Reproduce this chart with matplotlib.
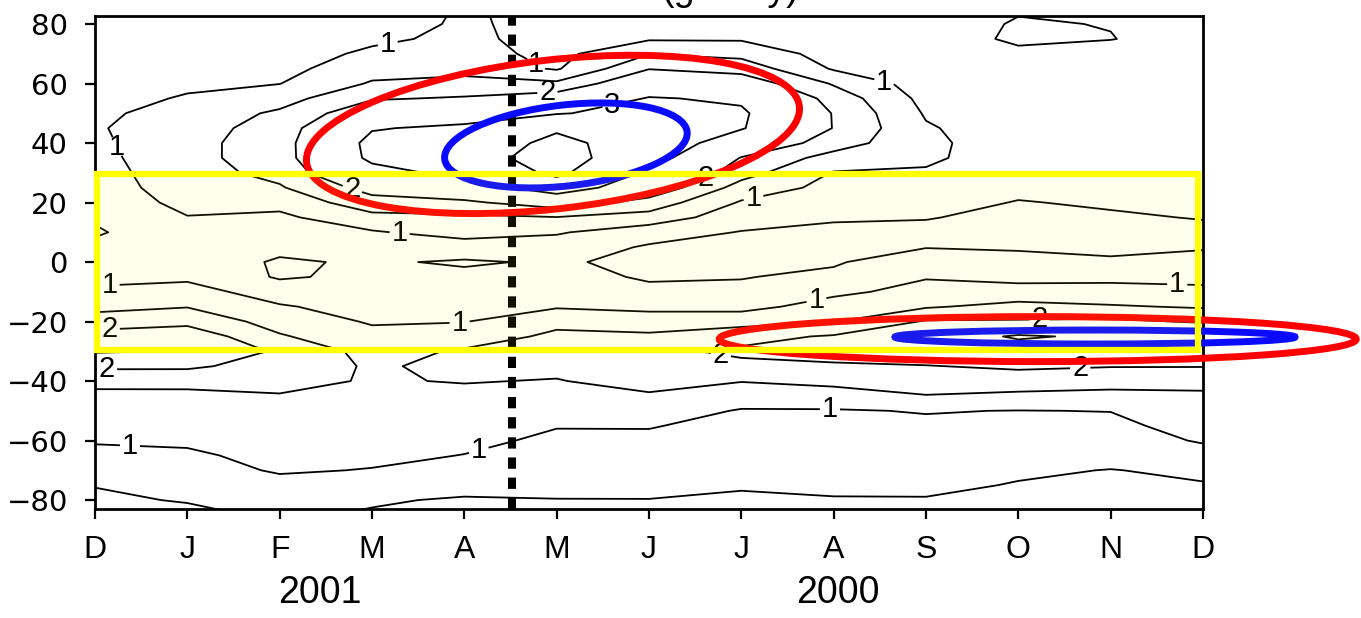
import numpy as np
import matplotlib
matplotlib.use("Agg")
import matplotlib.pyplot as plt
from matplotlib.patches import Ellipse, Rectangle
from matplotlib.transforms import ScaledTranslation

plt.rcParams["font.family"] = ["Liberation Sans", "DejaVu Sans"]

# time axis: Dec 2000 .. Dec 2001 shown as month index 0..12
months = np.arange(13)
month_labels = ["D", "J", "F", "M", "A", "M", "J", "J", "A", "S", "O", "N", "D"]
year_labels = ["2001", "2000"]
year_pos = [2.44, 8.05]
lats = np.arange(-85, 90, 5)

# monthly latitude profiles, 85S -> 85N
m00 = [0.40, 0.45, 0.51, 0.70, 0.85, 1.05, 1.20, 1.30, 1.40, 1.62, 2.10, 3.10, 2.20, 1.75, 1.35, 1.10, 0.85, 0.70,
       0.60, 0.45, 0.55, 0.65, 0.75, 0.80, 0.85, 0.90, 0.95, 0.90, 0.80, 0.75, 0.70, 0.65, 0.60, 0.60, 0.60]
m01 = [0.42, 0.52, 0.65, 0.80, 0.92, 1.08, 1.20, 1.30, 1.42, 1.60, 2.10, 2.95, 2.35, 1.85, 1.48, 1.20, 0.90, 0.75,
       0.70, 0.80, 0.98, 1.15, 1.25, 1.30, 1.35, 1.35, 1.30, 1.20, 1.05, 0.90, 0.80, 0.70, 0.60, 0.55, 0.55]
m02 = [0.55, 0.62, 0.85, 1.05, 1.15, 1.22, 1.30, 1.38, 1.48, 1.60, 1.75, 1.85, 1.55, 1.30, 1.05, 0.75, 0.45, 0.45,
       0.60, 0.75, 0.90, 1.15, 1.45, 1.65, 1.75, 1.75, 1.70, 1.58, 1.30, 0.99, 0.85, 0.75, 0.65, 0.60, 0.60]
m03 = [0.47, 0.53, 0.75, 0.98, 1.10, 1.20, 1.28, 1.35, 1.42, 1.47, 1.45, 1.35, 1.15, 0.95, 0.80, 0.70, 0.60, 0.55,
       0.65, 0.95, 1.35, 1.80, 2.20, 2.75, 3.15, 3.20, 2.95, 2.40, 1.95, 1.55, 1.30, 1.10, 0.90, 0.75, 0.70]
m04 = [0.40, 0.47, 0.60, 0.80, 0.99, 1.10, 1.20, 1.30, 1.40, 1.52, 1.60, 1.55, 1.30, 0.98, 0.90, 0.75, 0.60, 0.45,
       0.75, 1.20, 1.40, 1.90, 2.50, 3.20, 3.60, 3.50, 3.15, 2.60, 2.05, 1.65, 1.35, 1.20, 1.12, 1.08, 1.05]
m05 = [0.45, 0.49, 0.60, 0.75, 0.85, 0.92, 1.02, 1.20, 1.35, 1.48, 1.60, 1.65, 1.58, 1.40, 0.95, 0.80, 0.65, 0.55,
       0.75, 1.05, 1.48, 2.30, 3.50, 4.20, 4.40, 4.20, 3.90, 2.95, 2.30, 1.60, 0.95, 0.85, 0.80, 0.82, 0.85]
m06 = [0.45, 0.49, 0.62, 0.75, 0.85, 0.93, 1.02, 1.20, 1.45, 1.65, 1.85, 1.90, 1.60, 1.20, 0.90, 0.60, 0.45, 0.40,
       0.45, 0.70, 1.30, 1.80, 2.40, 2.85, 3.35, 3.60, 3.50, 3.25, 3.05, 2.50, 1.98, 1.48, 0.95, 0.75, 0.70]
m07 = [0.40, 0.45, 0.53, 0.65, 0.75, 0.82, 0.90, 0.97, 1.20, 1.52, 1.90, 2.08, 1.85, 1.30, 0.85, 0.60, 0.48, 0.40,
       0.38, 0.48, 0.70, 0.95, 1.30, 1.70, 1.97, 2.50, 3.05, 3.10, 2.90, 2.35, 1.80, 1.35, 0.95, 0.80, 0.75]
m08 = [0.42, 0.48, 0.56, 0.68, 0.78, 0.85, 0.92, 0.97, 1.25, 1.65, 1.95, 2.15, 2.05, 1.48, 1.20, 0.90, 0.60, 0.45,
       0.35, 0.40, 0.55, 0.70, 0.85, 0.97, 1.30, 1.75, 1.98, 1.97, 1.80, 1.45, 0.95, 0.80, 0.75, 0.70, 0.70]
m09 = [0.42, 0.48, 0.57, 0.70, 0.80, 0.87, 0.93, 1.02, 1.48, 1.75, 1.98, 2.30, 2.50, 2.05, 1.45, 1.15, 0.97, 0.80,
       0.48, 0.40, 0.52, 0.65, 0.80, 0.95, 1.08, 1.10, 1.05, 0.95, 0.85, 0.75, 0.70, 0.68, 0.70, 0.72, 0.72]
m10 = [0.40, 0.44, 0.48, 0.55, 0.68, 0.80, 0.90, 0.99, 1.40, 1.75, 2.08, 2.60, 3.10, 2.05, 1.65, 1.20, 0.85, 0.65,
       0.45, 0.35, 0.40, 0.48, 0.60, 0.70, 0.75, 0.75, 0.72, 0.70, 0.70, 0.72, 0.78, 0.88, 1.10, 1.05, 0.95]
m11 = [0.38, 0.42, 0.46, 0.49, 0.62, 0.75, 0.88, 1.01, 1.35, 1.70, 2.02, 2.40, 2.85, 2.10, 1.55, 1.15, 0.90, 0.55,
       0.42, 0.38, 0.45, 0.55, 0.62, 0.68, 0.72, 0.72, 0.70, 0.68, 0.66, 0.66, 0.68, 0.72, 1.02, 0.98, 0.75]
m12 = [0.38, 0.42, 0.48, 0.56, 0.80, 1.05, 1.20, 1.30, 1.42, 1.65, 2.02, 2.40, 2.55, 1.95, 1.45, 1.10, 0.88, 0.70,
       0.45, 0.40, 0.52, 0.60, 0.65, 0.70, 0.72, 0.72, 0.70, 0.68, 0.66, 0.66, 0.68, 0.70, 0.72, 0.72, 0.72]

plain_levels = [0.5, 1.5, 4]
label_levels = [1, 2, 3]
label_spots = [
    (3.17, 73.6), (0.27, 39.3), (3.30, 9.7), (4.77, 66.2), (7.13, 21.8), (8.52, 56.8),
    (2.79, 24.9), (4.90, 56.8), (5.63, 48.7), (6.55, 33.3),
    (0.16, -9.4), (0.16, -22.9), (0.13, -36.3), (0.38, -60.8), (4.17, -64.9), (3.95, -21.2),
    (7.82, -13.8), (6.77, -32.9), (7.96, -48.0), (10.23, -17.1), (10.67, -35.3), (11.72, -8.4),
]

# highlight marks: centre (month, lat), size in inches, tilt in degrees
red_marks = [((4.96, 42.9), 4.96, 1.49, 6.5), ((10.21, -25.9), 6.37, 0.45, 0.0)]
blue_marks = [((5.10, 39.2), 2.44, 0.81, 6.4), ((10.83, -25.2), 4.00, 0.14, 0.0)]
event_month = 4.516
tropics = (-29.7, 29.7)

field = np.column_stack([m00, m01, m02, m03, m04, m05, m06, m07, m08, m09, m10, m11, m12])

fig = plt.figure(figsize=(13.61, 6.18), dpi=100)
ax = fig.add_axes([0.0698, 0.1764, 0.8141, 0.7977])

ax.contour(months, lats, field, levels=plain_levels, colors="k", linewidths=1.3, zorder=2)
cs = ax.contour(months, lats, field, levels=label_levels, colors="k", linewidths=1.3, zorder=2)
labels = ax.clabel(cs, manual=label_spots, fmt="%d", fontsize=21, inline=True, inline_spacing=2)
for t in labels:
    t.set_rotation(0)

ax.axvline(event_month, color="k", lw=5.8, linestyle=(0, (1.4, 1.1)), dash_capstyle="butt", zorder=3)

for color, marks in (("#ff0000", red_marks), ("#0a0aff", blue_marks)):
    for (cx, cy), w, h, ang in marks:
        trans = fig.dpi_scale_trans + ScaledTranslation(cx, cy, ax.transData)
        ax.add_patch(Ellipse((0, 0), w, h, angle=ang, transform=trans, fill=False,
                             edgecolor=color, lw=5, clip_on=False, zorder=4))

ax.add_patch(Rectangle((0.02, tropics[0]), 11.93, tropics[1] - tropics[0], facecolor=(1, 1, 0, 0.07),
                       edgecolor="#ffff00", lw=4.5, clip_on=False, zorder=6))

ax.set_xlim(0, 12)
ax.set_ylim(-83.0, 82.7)
ax.set_xticks(months)
ax.set_xticklabels(month_labels, family=["Liberation Sans Narrow", "Liberation Sans"], fontsize=23)
ax.set_yticks(np.arange(-80, 81, 20))
ax.set_yticklabels([f"{v}".replace("-", "\u2212") for v in range(-80, 81, 20)], family="DejaVu Sans", fontsize=21)
ax.tick_params(axis="both", direction="out", length=7.5, width=1.6)
ax.tick_params(axis="y", pad=12)
ax.tick_params(axis="x", pad=11)
for sp in ax.spines.values():
    sp.set_linewidth(2.0)

for lab, xpos in zip(year_labels, year_pos):
    ax.text(xpos, -0.170, lab, transform=ax.get_xaxis_transform(), ha="center", va="center", fontsize=27)

fig.text(662 / 1361, 1.0, "(g/m2/y)", ha="left", va="baseline", fontsize=27)

fig.savefig("out.png", dpi=100)
